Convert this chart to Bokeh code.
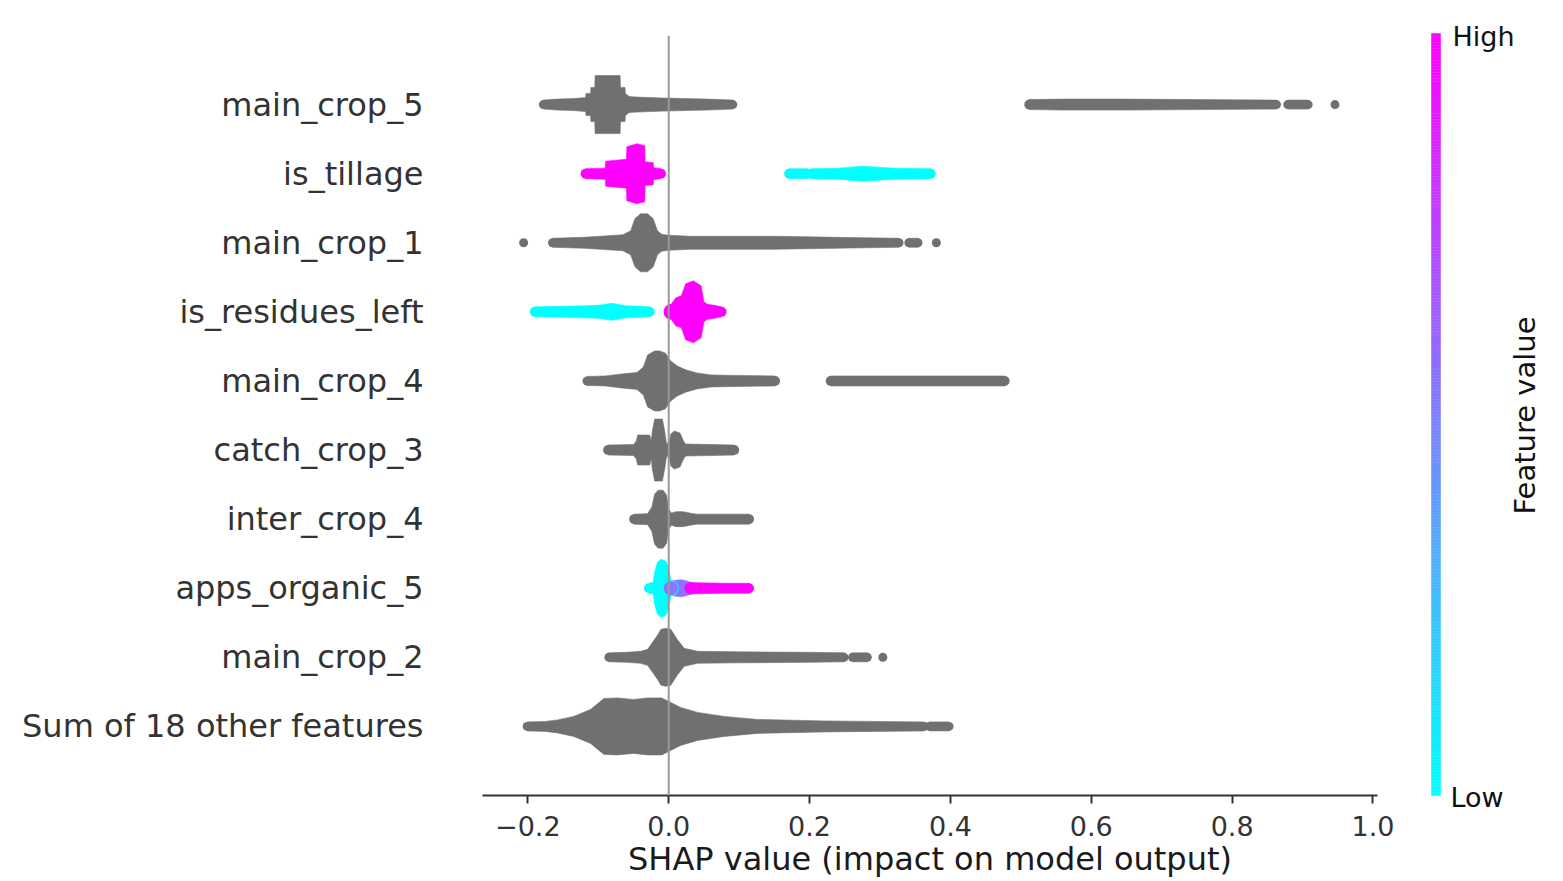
import numpy as np
from bokeh.plotting import figure
from bokeh.models import Range1d, FixedTicker, Span, ColumnDataSource, Label
from bokeh.layouts import row
from bokeh.embed import file_html
from bokeh.resources import INLINE
from bokeh.core.properties import value

# ---------------- data ----------------
features = ["main_crop_5", "is_tillage", "main_crop_1", "is_residues_left",
            "main_crop_4", "catch_crop_3", "inter_crop_4", "apps_organic_5",
            "main_crop_2", "Sum of 18 other features"]

x_ticks = [-0.2, 0.0, 0.2, 0.4, 0.6, 0.8, 1.0]
x_tick_labels = ["\u22120.2", "0.0", "0.2", "0.4", "0.6", "0.8", "1.0"]

# each run: (colour key, SHAP x knots, swarm half-width (density) at knots)
main_crop_5 = [
    ("gray", [-0.178, -0.158, -0.135, -0.118, -0.1175, -0.111, -0.1105, -0.105, -0.1045,
              -0.069, -0.0685, -0.062, -0.0615, -0.056, -0.045, -0.007, 0.055, 0.091],
             [4.5, 5.5, 6, 7, 11, 11, 17, 17, 29, 29, 17, 17, 11, 8, 7.5, 6.5, 5.5, 4.5]),
    ("gray", [0.512, 0.560, 0.650, 0.750, 0.863], [5, 5.5, 5.5, 5, 4.5]),
    ("gray", [0.879, 0.908], [4.5, 4.5]),
    ("gray", [0.946], [4.5]),
]
is_tillage = [
    ("high", [-0.118, -0.090, -0.0895, -0.060, -0.0595, -0.045, -0.034, -0.0335,
              -0.022, -0.0215, -0.011],
             [5, 5.5, 12.5, 14.5, 27, 30, 28, 12, 11, 6, 5]),
    ("low", [0.171, 0.197], [5, 5]),
    ("low", [0.203, 0.240, 0.275, 0.320, 0.372], [5, 5.5, 7.5, 5.5, 5]),
]
main_crop_1 = [
    ("gray", [-0.206], [4.5]),
    ("gray", [-0.165, -0.120, -0.097, -0.065, -0.054, -0.048, -0.040, -0.030, -0.022,
              -0.016, -0.010, 0.000, 0.030, 0.150, 0.280, 0.327],
             [4.5, 5.5, 6.5, 8, 12, 24, 29, 29, 24, 12, 8.5, 7.5, 6.5, 6.5, 5, 4.5]),
    ("gray", [0.341, 0.354], [4.5, 4.5]),
    ("gray", [0.380], [4.5]),
]
is_residues_left = [
    ("low", [-0.190, -0.150, -0.120, -0.100, -0.081, -0.060, -0.040, -0.027],
            [5, 5.5, 6, 6.5, 8.5, 6, 5.5, 5]),
    ("high", [0.004, 0.010, 0.018, 0.024, 0.035, 0.046, 0.050, 0.055, 0.065, 0.075],
             [8, 14, 16, 28, 31, 26, 10, 7.5, 6.5, 5]),
]
main_crop_4 = [
    ("gray", [-0.116, -0.090, -0.067, -0.045, -0.036, -0.030, -0.020, -0.013, -0.005,
              0.003, 0.012, 0.025, 0.040, 0.060, 0.100, 0.151],
             [4.5, 5, 7, 8.5, 14, 26, 30, 30, 28, 20, 15, 11, 8, 6, 5.5, 5]),
    ("gray", [0.230, 0.300, 0.400, 0.477], [5, 5, 5, 5]),
]
catch_crop_3 = [
    ("gray", [-0.086, -0.050, -0.046, -0.044, -0.027, -0.025, -0.023, -0.020, -0.009,
              -0.006, -0.003, 0.001, 0.003, 0.008, 0.016, 0.021, 0.024, 0.060, 0.093],
             [5, 5.5, 9, 15, 15, 9, 20, 31, 31, 20, 6, 8, 16, 19, 17, 9, 6, 5.5, 5]),
]
inter_crop_4 = [
    ("gray", [-0.049, -0.030, -0.024, -0.020, -0.015, -0.008, -0.003, 0.000, 0.004,
              0.010, 0.020, 0.031, 0.040, 0.080, 0.114],
             [5, 5.5, 12, 25, 29, 29, 24, 10, 6, 7.5, 7.5, 6, 5, 5, 5]),
]
apps_organic_5 = [
    ("low", [-0.028, -0.022, -0.020, -0.016, -0.011, -0.004, 0.000, 0.003],
            [5, 6, 16, 26, 29, 27, 20, 8]),
    ("mid", [0.003, 0.010, 0.018, 0.025, 0.031], [7, 8, 8.5, 7.5, 6]),
    ("high", [0.031, 0.040, 0.080, 0.114], [6, 5.5, 5, 5]),
]
main_crop_2 = [
    ("gray", [-0.085, -0.060, -0.040, -0.030, -0.016, -0.011, -0.004, 0.003, 0.012,
              0.022, 0.041, 0.100, 0.200, 0.249],
             [4.5, 5, 6, 8, 22, 28, 29, 28, 18, 9, 6, 5.5, 5, 4.5]),
    ("gray", [0.261, 0.282], [4.5, 4.5]),
    ("gray", [0.304], [4.5]),
]
sum_other = [
    ("gray", [-0.201, -0.175, -0.158, -0.135, -0.111, -0.092, -0.073, -0.050, -0.030,
              -0.010, 0.003, 0.017, 0.041, 0.079, 0.126, 0.221, 0.363],
             [4.5, 5, 6.5, 10, 17, 28, 28.5, 27, 28.5, 28.5, 24, 19, 14, 10, 7, 5.5, 4.5]),
    ("gray", [0.370, 0.398], [4.5, 4.5]),
]
feature_runs = [main_crop_5, is_tillage, main_crop_1, is_residues_left, main_crop_4,
                catch_crop_3, inter_crop_4, apps_organic_5, main_crop_2, sum_other]

# ---------------- style ----------------
COLORS = {"gray": "#707070", "low": "#00ffff", "mid": "#8c73ff", "high": "#ff00ff"}
FONT = "DejaVu Sans"
W_MAIN, W_CB, H = 1420, 127, 880
F_LEFT, F_RIGHT, F_TOP, F_BOTTOM = 482, 1377, 35, 795   # frame edges in page pixels
X0, X1 = -0.2644, 1.0064
Y0, Y1 = -1, len(features)
ROW_PX = (F_BOTTOM - F_TOP) / (Y1 - Y0)

p = figure(width=W_MAIN, height=H, x_range=Range1d(X0, X1), y_range=Range1d(Y0, Y1),
           output_backend="svg", toolbar_location=None,
           min_border_left=F_LEFT, min_border_right=W_MAIN - F_RIGHT,
           min_border_top=F_TOP, min_border_bottom=H - F_BOTTOM)
p.outline_line_color = None
p.xgrid.visible = False
p.ygrid.visible = False
p.background_fill_color = "white"
p.border_fill_color = "white"

# swarm shapes
pxs, pys, pcols = [], [], []
cx, cy, cs, cc = [], [], [], []
n = len(features)
for i, runs in enumerate(feature_runs):
    yrow = n - 1 - i
    for ckey, xs, hws in runs:
        col = COLORS[ckey]
        if len(xs) == 1:
            cx.append(xs[0]); cy.append(yrow); cs.append(2 * hws[0]); cc.append(col)
            continue
        h = np.array(hws, dtype=float) / ROW_PX
        pxs.append(list(xs) + list(xs[::-1]))
        pys.append(list(yrow + h) + list((yrow - h)[::-1]))
        pcols.append(col)
        cx += [xs[0], xs[-1]]; cy += [yrow, yrow]
        cs += [2 * hws[0], 2 * hws[-1]]; cc += [col, col]

p.patches(xs="xs", ys="ys", fill_color="c", line_color="c", line_width=0.6,
          source=ColumnDataSource(dict(xs=pxs, ys=pys, c=pcols)))
p.scatter(x="x", y="y", size="s", fill_color="c", line_color=None,
          source=ColumnDataSource(dict(x=cx, y=cy, s=cs, c=cc)))

p.add_layout(Span(location=0, dimension="height", line_color="#999999", line_width=2))

# y axis
p.yaxis.ticker = FixedTicker(ticks=list(range(n)), minor_ticks=[])
p.yaxis.major_label_overrides = {n - 1 - i: name for i, name in enumerate(features)}
p.yaxis.axis_line_color = None
p.yaxis.major_tick_line_color = None
p.yaxis.minor_tick_line_color = None
p.yaxis.major_tick_out = 0
p.yaxis.major_tick_in = 0
p.yaxis.major_label_standoff = 59
p.yaxis.major_label_text_font = FONT
p.yaxis.major_label_text_font_size = "32px"
p.yaxis.major_label_text_color = "#333333"

# x axis
p.xaxis.ticker = FixedTicker(ticks=x_ticks, minor_ticks=[])
p.xaxis.major_label_overrides = dict(zip(x_ticks, x_tick_labels))
p.xaxis.axis_line_color = "#333333"
p.xaxis.axis_line_width = 2
p.xaxis.major_tick_line_color = "#333333"
p.xaxis.major_tick_line_width = 2
p.xaxis.major_tick_out = 8
p.xaxis.major_tick_in = 0
p.xaxis.minor_tick_line_color = None
p.xaxis.major_label_standoff = 12
p.xaxis.major_label_text_font = FONT
p.xaxis.major_label_text_font_size = "27px"
p.xaxis.major_label_text_color = "#333333"
p.xaxis.axis_label = "SHAP value (impact on model output)"
p.xaxis.axis_label_text_font = FONT
p.xaxis.axis_label_text_font_size = "32px"
p.xaxis.axis_label_text_font_style = "normal"
p.xaxis.axis_label_text_color = "#1a1a1a"
p.xaxis.axis_label_standoff = 1

# ---------------- colour bar panel ----------------
# independent frame covering the whole panel; ranges are page pixels
p2 = figure(width=W_CB, height=H, x_range=Range1d(W_MAIN, W_MAIN + W_CB),
            y_range=Range1d(H, 0),
            output_backend="svg", toolbar_location=None,
            x_axis_location=None, y_axis_location=None,
            min_border_left=0, min_border_right=0, min_border_top=0, min_border_bottom=0)
try:
    p2.frame_align = False
except Exception:
    pass
p2.outline_line_color = None
p2.xgrid.visible = False
p2.ygrid.visible = False
p2.background_fill_color = "white"
p2.border_fill_color = "white"

NC = 256
cool = ["#%02x%02x%02x" % (int(round(255 * t)), int(round(255 * (1 - t))), 255)
        for t in np.linspace(0, 1, NC)]
edges = np.linspace(F_BOTTOM, 33, NC + 1)
p2.quad(left=1431, right=1440, bottom=edges[:-1], top=edges[1:], fill_color=cool,
        line_color=cool, line_width=0.5)

p2.add_layout(Label(x=1452, y=36, text="High", text_font=FONT, text_font_size="27px",
                    text_color="#111111", text_baseline="middle", text_align="left"))
p2.add_layout(Label(x=1450, y=797, text="Low", text_font=FONT, text_font_size="27px",
                    text_color="#111111", text_baseline="middle", text_align="left"))
p2.add_layout(Label(x=1524, y=415, text="Feature value", text_font=FONT,
                    text_font_size="29px", text_color="#111111", text_baseline="middle",
                    text_align="center", angle=np.pi / 2))

layout = row(p, p2)
open("out.html", "w").write(file_html(layout, INLINE))
